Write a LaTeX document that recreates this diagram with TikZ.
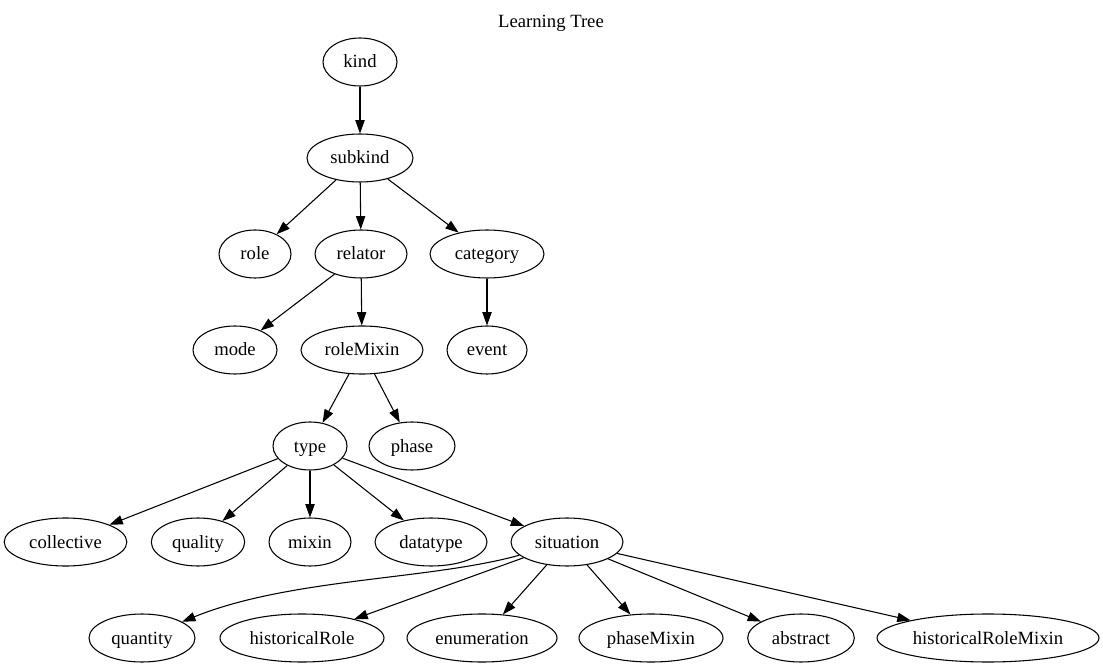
\documentclass[tikz,border=0pt]{standalone}
\usepackage{fontspec}
\setmainfont{Liberation Serif}
\usetikzlibrary{arrows.meta, shapes.geometric}

\begin{document}
\begin{tikzpicture}[x=0.75pt,y=-0.75pt,>={Triangle[length=10pt,width=7pt]},line width=0.8pt,
	cls/.style={ellipse, draw, inner sep=0pt, minimum width=#1, minimum height=36pt,
		text height=11pt, text depth=2pt, font=\fontsize{14}{17}\selectfont,
		execute at begin node={\hbox to 0pt\bgroup\hss}, execute at end node={\hss\egroup}}]
	
	\useasboundingbox (0,0) rectangle (1103,666);
	\node (title) at (551,23) {\fontsize{14}{17}\selectfont Learning Tree};
	
	\node (kind) [cls=55.5pt] at (360,62) {kind};
	\node (subkind) [cls=79.5pt] at (360,158) {subkind};
	\node (role) [cls=54pt] at (255,254) {role};
	\node (relator) [cls=69pt] at (361,254) {relator};
	\node (category) [cls=85.5pt] at (487,254) {category};
	\node (mode) [cls=63pt] at (235,350) {mode};
	\node (roleMixin) [cls=91.5pt] at (362,350) {roleMixin};
	\node (event) [cls=60pt] at (487,350) {event};
	\node (type) [cls=55.5pt] at (310,446) {type};
	\node (phase) [cls=64.5pt] at (412,446) {phase};
	
	\node (collective) [cls=92pt] at (65.5,542) {collective};
	\node (quality) [cls=70pt] at (198,542) {quality};
	\node (mixin) [cls=61.5pt] at (310,542) {mixin};
	\node (datatype) [cls=84pt] at (431,542) {datatype};
	\node (situation) [cls=84pt] at (567,542) {situation};
	
	\node (quantity) [cls=79.5pt] at (142,638) {quantity};
	\node (historicalRole) [cls=123pt] at (302,638) {historicalRole};
	\node (enumeration) [cls=112.5pt] at (482,638) {enumeration};
	\node (phaseMixin) [cls=108pt] at (651,638) {phaseMixin};
	\node (abstract) [cls=80pt] at (801,638) {abstract};
	\node (historicalRoleMixin) [cls=166.5pt] at (988,638) {historicalRoleMixin};
	
	\path [->]
	(kind) edge (subkind)
	
	(subkind) edge (role)
	(subkind) edge (relator)
	(subkind) edge (category)
	
	(relator) edge (mode)
	(relator) edge (roleMixin)
	(category) edge (event)
	
	(roleMixin) edge (type)
	(roleMixin) edge (phase)
	
	(type) edge (collective)
	(type) edge (quality)
	(type) edge (mixin)
	(type) edge (datatype)
	(type) edge (situation)
	
	(situation) edge (historicalRole)
	(situation) edge (enumeration)
	(situation) edge (phaseMixin)
	(situation) edge (abstract)
	(situation) edge (historicalRoleMixin);
	
	\draw [->] (situation) .. controls (430,580) and (290,578) .. (quantity);
\end{tikzpicture}
\end{document}
